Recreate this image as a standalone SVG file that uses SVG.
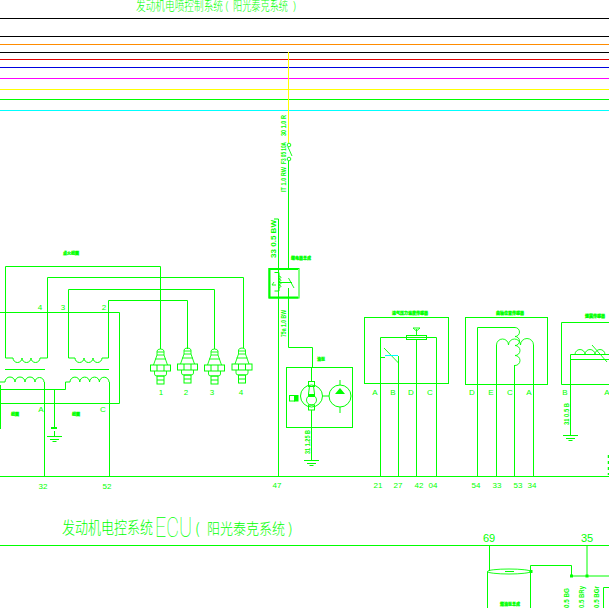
<svg xmlns="http://www.w3.org/2000/svg" width="609" height="608" viewBox="0 0 609 608">
<style>
.w{fill:none;stroke:#0f0;stroke-width:1}
.t{fill:none;stroke:#0f0;stroke-width:.9}
.f{fill:#0f0;stroke:none}
text{fill:#0f0;font-family:"Liberation Sans","Noto Sans CJK SC",sans-serif}
.n{font-size:8px;text-anchor:middle}
.b{font-size:11px;text-anchor:middle;font-weight:400}
.s{font-size:4px;text-anchor:middle;font-family:"Noto Sans CJK SC",sans-serif;font-weight:700;stroke:#0f0;stroke-width:.3}
.r{font-size:6.500px;font-weight:700}
.h{font-family:"Noto Sans CJK SC",sans-serif;font-weight:300}
</style>
<defs>
<g id="plug">
<path class="t" d="M-3.500 6V2Q-3 0 0 0T3.500 2V6M-3.500 3H3.500M-5.500 10H5.500M-7 16L-3.500 6H3.500L7 16"/>
<rect class="w" x="-10" y="16" width="20" height="6"/>
<path class="w" d="M-3.500 16V22M3.500 16V22"/>
<path class="t" d="M-6 22V25Q-6 27 -3.500 27H3.500Q6 27 6 25V22"/>
<rect class="w" x="-3.500" y="27" width="7" height="8"/>
<path class="w" d="M-3.500 31H3.500"/>
</g>
<g id="gnd"><path class="w" d="M-7.500 0H7.500M-4.500 3H4.500M-2 5H2"/></g>
</defs>
<rect width="609" height="608" fill="#fff"/>
<g id="bus-lines" fill="none" stroke-width="1">
<path stroke="#000" d="M0 18.500H609M0 36.500H609M0 52.500H609"/>
<path stroke="#ff8c00" d="M0 44.500H609"/>
<path stroke="#e00000" d="M0 59.500H609"/>
<path stroke="#0000e0" d="M0 67.500H609"/>
<path stroke="#f0f" d="M0 78.500H609"/>
<path stroke="#ff0" d="M0 89.500H609"/>
<path stroke="#0f0" d="M0 99.500H609"/>
<path stroke="#0ff" d="M0 110.500H609"/>
</g>
<g id="connectors">
<path fill="none" stroke="#ff0" stroke-width="1" d="M288.500 52V143"/>
<path class="w" d="M288.500 161V268M288.500 298V347.500H312.500V367M278.500 219H274M278.500 219V476"/>
<path class="w" d="M0 476.500H609M0 545.500H609"/>
<path class="w" d="M5.500 358V266.500H160.500V349M47.500 358V277.500H243.500V348M68.500 358V289.500H214.500V349M108.500 358V300.500H187.500V349"/>
<path class="w" d="M0 312.500H119.500V403.500H0M44.500 382V476M109.500 382V476M54.500 389V428M54.500 431V436M0 389.500H65.500V382H70M0.500 385V429"/>
<path class="w" d="M311.500 410V460"/>
</g>
<g id="titles">
<text class="h" x="136" y="10" font-size="13" textLength="87" lengthAdjust="spacingAndGlyphs">发动机电喷控制系统</text>
<text class="h" x="225" y="10" font-size="11">(</text>
<text class="h" x="233" y="10" font-size="13" textLength="55" lengthAdjust="spacingAndGlyphs">阳光泰克系统</text>
<text class="h" x="293" y="10" font-size="11">)</text>
<text class="h" x="62" y="534" font-size="17" textLength="91" lengthAdjust="spacingAndGlyphs">发动机电控系统</text>
<text x="155" y="537" font-size="27" style="font-family:Roboto,sans-serif;font-weight:100" textLength="37" lengthAdjust="spacingAndGlyphs">ECU</text>
<text class="h" x="195" y="534" font-size="15">(</text>
<text class="h" x="207" y="534" font-size="15" textLength="78" lengthAdjust="spacingAndGlyphs">阳光泰克系统</text>
<text class="h" x="288" y="534" font-size="15">)</text>
</g>
<g id="ignition-coil">
<path class="w" d="M5.500 358H13M13 358a4.500 4.500 0 0 0 9 0a4.500 4.500 0 0 0 9 0a4.500 4.500 0 0 0 9 0H47.500M68.500 358H75M75 358a4.500 4.500 0 0 0 9 0a4.500 4.500 0 0 0 9 0a4.500 4.500 0 0 0 9 0H108.500"/>
<path class="w" d="M5 369.500H45M70 369.500H109"/>
<path class="w" d="M0 382H5M5 382a5 5 0 0 1 10 0a5 5 0 0 1 10 0a5 5 0 0 1 10 0a4.500 4.500 0 0 1 9 0M70 382a4.800 4.800 0 0 1 9.800 0a4.800 4.800 0 0 1 9.800 0a4.800 4.800 0 0 1 9.800 0a4.800 4.800 0 0 1 9.600 0"/>
<text class="s" x="71" y="255">点火线圈</text>
<text class="n" x="40" y="310">4</text><text class="n" x="63" y="310">3</text><text class="n" x="104" y="310">2</text>
<text class="n" x="41" y="412">A</text><text class="n" x="103" y="412">C</text>
<text class="s" x="15" y="416">线圈</text><text class="s" x="76" y="416">线圈</text>
<path class="f" d="M51 427h6v2h-6z"/>
<use href="#gnd" x="54.500" y="436.500"/>
<text class="n" x="43" y="489">32</text><text class="n" x="107" y="489">52</text>
</g>
<g id="spark-plugs">
<use href="#plug" x="160.500" y="349"/><use href="#plug" x="187.500" y="348"/><use href="#plug" x="214.500" y="349"/><use href="#plug" x="242" y="348"/>
<text class="n" x="161" y="395">1</text><text class="n" x="186" y="395">2</text><text class="n" x="212" y="395">3</text><text class="n" x="241" y="395">4</text>
</g>
<g id="fuse">
<circle class="t" cx="289" cy="145" r="1.800"/><circle class="t" cx="289" cy="159" r="1.800"/>
<path class="t" d="M288 147L292 156"/>
<text class="r" transform="translate(286 136) rotate(-90)" textLength="21" lengthAdjust="spacingAndGlyphs">30 1.0 R</text>
<text class="r" transform="translate(286 164) rotate(-90)" textLength="22" lengthAdjust="spacingAndGlyphs">F3 05 10A</text>
<text class="r" transform="translate(286 192) rotate(-90)" textLength="25" lengthAdjust="spacingAndGlyphs">IT 1.0 RW</text>
<text class="r" transform="translate(276 258) rotate(-90)" textLength="38" lengthAdjust="spacingAndGlyphs">33 0.5 BW</text>
</g>
<g id="relay">
<path fill="none" stroke="#0f0" stroke-width="2" d="M298 269H269.500V297.500H298"/>
<rect class="w" x="269" y="268.500" width="30" height="29.500"/>
<path class="w" d="M274.500 272.500H279V291H274.500M279 282.500H292M288.500 288V298"/>
<path class="t" d="M279 276q4 1 0 3q4 1 0 3q4 1 0 3q4 1 0 3M274 282l-2 3l4 0M288.500 278L294 288"/>
<text class="s" x="301" y="260">继电器总成</text>
<text class="r" transform="translate(286 337) rotate(-90)" textLength="27" lengthAdjust="spacingAndGlyphs">75a 1.0 BW</text>
</g>
<g id="fuel-pump">
<rect class="w" x="286.500" y="367.500" width="66" height="60"/>
<circle class="w" cx="311.500" cy="396" r="11"/><circle class="w" cx="340" cy="396" r="11"/>
<circle class="t" cx="311.500" cy="400" r="5"/>
<rect class="w" x="308.500" y="381.500" width="6" height="5"/><rect class="w" x="308.500" y="405" width="6" height="5"/>
<path class="w" d="M311.500 367V381M309.500 386L308.500 394M313.500 386L314.500 394M322.500 396H329M340 380V385M340 407V413"/>
<path class="f" d="M308 394h7v3h-7zM340 388l5 6h-10z"/>
<rect class="w" x="289.500" y="395.500" width="5" height="5.500"/><rect class="f" x="294" y="395" width="4.500" height="6.500"/>
<text class="s" x="321" y="361">油泵</text>
<text class="r" transform="translate(310 454) rotate(-90)" textLength="24" lengthAdjust="spacingAndGlyphs">31 1.25 B</text>
<use href="#gnd" x="311.500" y="460.500"/>
<text class="n" x="277" y="488">47</text>
</g>
<g id="intake-sensor">
<rect class="w" x="364.500" y="317.500" width="84" height="66"/>
<path class="w" d="M380.500 476V337.500H436.500V476M416.500 339V476M398.500 476V356M380.500 357.500H385"/>
<rect class="w" x="406.500" y="335.500" width="20" height="4"/>
<path class="t" d="M416.500 335V329M413 328H420L416.500 331Z"/>
<path class="t" d="M384 348L398.500 363"/>
<path fill="none" stroke="#0ff" stroke-width="1" d="M385 355.500H398"/>
<text class="s" x="410" y="315">进气压力温度传感器</text>
<text class="n" x="375" y="395">A</text><text class="n" x="393" y="395">B</text><text class="n" x="411" y="395">D</text><text class="n" x="430" y="395">C</text>
<text class="n" x="378" y="488">21</text><text class="n" x="398" y="488">27</text><text class="n" x="419" y="488">42</text><text class="n" x="433" y="488">04</text>
</g>
<g id="crank-sensor">
<rect class="w" x="465.500" y="317.500" width="82" height="67"/>
<path class="w" d="M477.500 476V327.500H515M496.500 476V345M533.500 476V345M514.500 476V365"/>
<path class="t" d="M515 327.500a4.500 4.500 0 0 1 0 9a4.500 4.500 0 0 1 0 9a4.500 4.500 0 0 1 0 10a5 5 0 0 1 0 10M496.500 345a6 6 0 0 1 12 0a6 6 0 0 1 12 0a6.500 6.500 0 0 1 13 0"/>
<text class="s" x="510" y="315">曲轴位置传感器</text>
<text class="n" x="472" y="395">D</text><text class="n" x="491" y="395">E</text><text class="n" x="510" y="395">C</text><text class="n" x="529" y="395">A</text>
<text class="n" x="476" y="488">54</text><text class="n" x="497" y="488">33</text><text class="n" x="518" y="488">53</text><text class="n" x="532" y="488">34</text>
</g>
<g id="knock-sensor">
<path class="w" d="M609 322.500H561.500V384.500H609M570.500 435V354.500H609M570.500 359.500H609"/>
<path class="t" d="M575 354.500a5 5 0 0 1 10 0a5 5 0 0 1 10 0a5 5 0 0 1 10 0M592 345L607 362"/>
<text class="s" x="595" y="318">爆震传感器</text>
<text class="n" x="565" y="395">B</text><text class="n" x="607" y="395">A</text>
<text class="r" transform="translate(569 425) rotate(-90)" textLength="22" lengthAdjust="spacingAndGlyphs">31 0.5 B</text>
<use href="#gnd" x="570.500" y="435.500"/>
<path fill="none" stroke="#0f0" stroke-width="1.500" stroke-dasharray="3 3" d="M608.500 455V475"/>
</g>
<g id="fuel-tank">
<path class="w" d="M489.500 545V571M487.500 608V571.500M530.500 608V565.500H571.500V576M571.500 576H609M587 545V576M603.500 608V587.500H609"/>
<ellipse class="t" cx="509" cy="571.500" rx="21.500" ry="2.500"/>
<path class="f" d="M529.500 570h3v3h-3zM570 574.500h3v3h-3zM585.500 574.500h3v3h-3zM505 571h9v1h-9z"/>
<text class="s" x="510" y="606">燃油泵总成</text>
<text class="b" x="489" y="542">69</text><text class="b" x="587" y="542">35</text>
<text class="r" transform="translate(569 608) rotate(-90)" textLength="20" lengthAdjust="spacingAndGlyphs">0.5 BG</text>
<text class="r" transform="translate(584 608) rotate(-90)" textLength="22" lengthAdjust="spacingAndGlyphs">0.5 BRy</text>
<text class="r" transform="translate(599 608) rotate(-90)" textLength="22" lengthAdjust="spacingAndGlyphs">0.5 BGr</text>
</g>
</svg>
